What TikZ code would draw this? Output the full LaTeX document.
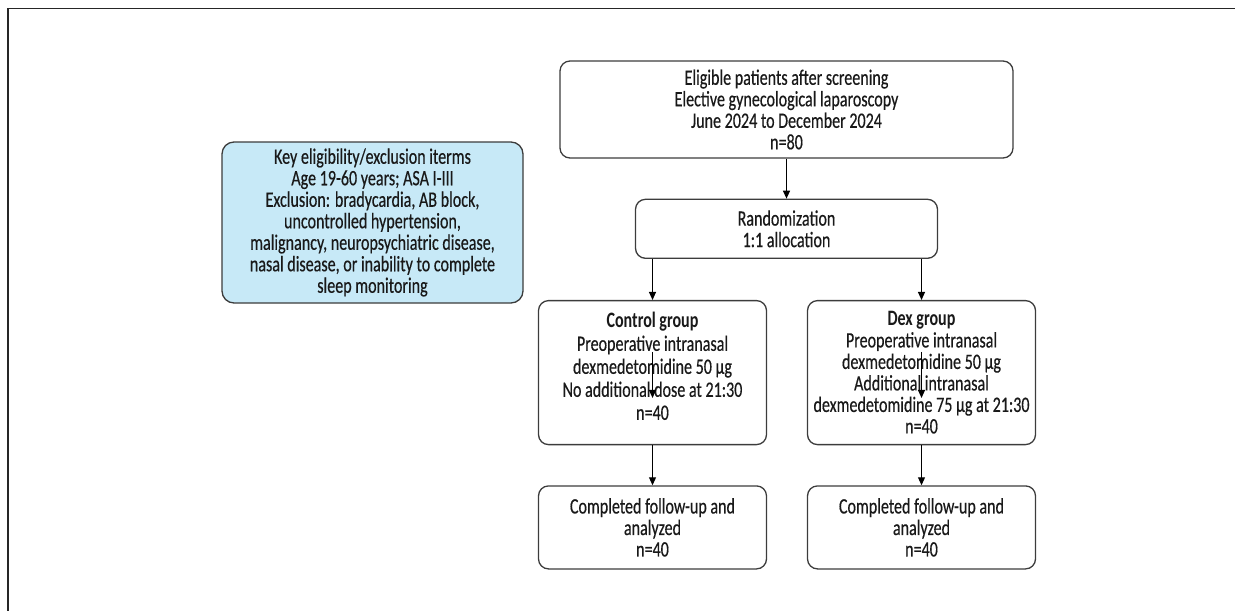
\documentclass[tikz,border=0pt]{standalone}
\usepackage{fontspec}
\setmainfont{Carlito}[FakeStretch=0.73, UprightFeatures={FakeBold=0.4}]
\usetikzlibrary{positioning,arrows.meta}
\definecolor{keyblue}{HTML}{C7E9F7}
\definecolor{boxline}{HTML}{3C3C3C}
\tikzstyle{FlowBox}=[draw=boxline, line width=0.65pt, rounded corners=5pt, align=center, inner sep=2pt, text=black!90, font=\fontsize{11}{10.75}\selectfont]
\tikzstyle{KeyBox}=[FlowBox, fill=keyblue, rounded corners=6pt, minimum width=150.5pt, minimum height=80.5pt]
\tikzstyle{GroupBox}=[FlowBox, minimum width=114pt, minimum height=72pt]
\tikzstyle{DoneBox}=[FlowBox, minimum width=114pt, minimum height=41.5pt]

\begin{document}
\begin{tikzpicture}[x=0.5pt, y=-0.5pt, node distance=20pt, >={Triangle[length=4pt,width=3.5pt]}, line width=0.55pt]
      \useasboundingbox (0,0) rectangle (1235,611);
      \draw[black!85, line width=0.6pt] (1235,8.5) -- (8,8.5) -- (8,611);
      \node[FlowBox, minimum width=226.5pt, minimum height=48.5pt] (screen) at (786.5,109.5) {Eligible patients after screening\\Elective gynecological laparoscopy\\June 2024 to December 2024\\n=80};
      \node[FlowBox, minimum width=151pt, minimum height=29.5pt] (rand) [below=of screen] {Randomization\\1:1 allocation};
      \node[GroupBox, font=\fontsize{11}{11.5}\selectfont] (ctrl) [below=20.5pt of rand, xshift=-67pt] {\textbf{Control group}\\Preoperative intranasal\\dexmedetomidine 50 µg\\No additional dose at 21:30\\n=40\\[-5pt]};
      \node[GroupBox] (dex) [below=20.5pt of rand, xshift=67.5pt] {\textbf{Dex group}\\Preoperative intranasal\\dexmedetomidine 50 µg\\Additional intranasal\\dexmedetomidine 75 µg at 21:30\\n=40};
      \node[DoneBox] (ctrldone) [below=of ctrl] {Completed follow-up and\\analyzed\\n=40};
      \node[DoneBox] (dexdone) [below=of dex] {Completed follow-up and\\analyzed\\n=40};
      \node[KeyBox] (key) at (372.5,222.5) {Key eligibility/exclusion iterms\\Age 19-60 years; ASA I-III\\Exclusion: bradycardia, AB block,\\uncontrolled hypertension,\\malignancy, neuropsychiatric disease,\\nasal disease, or inability to complete\\sleep monitoring};
      \draw[->] (screen) -- (rand);
      \draw[->] (rand.south -| ctrl.north) -- (ctrl.north);
      \draw[->] (rand.south -| dex.north) -- (dex.north);
      \draw[->] ([yshift=-26pt]ctrl.north) -- ([yshift=-49pt]ctrl.north);
      \draw[->] ([yshift=-26pt]dex.north) -- ([yshift=-49pt]dex.north);
      \draw[->] (ctrl) -- (ctrldone);
      \draw[->] (dex) -- (dexdone);
    \end{tikzpicture}
\end{document}
